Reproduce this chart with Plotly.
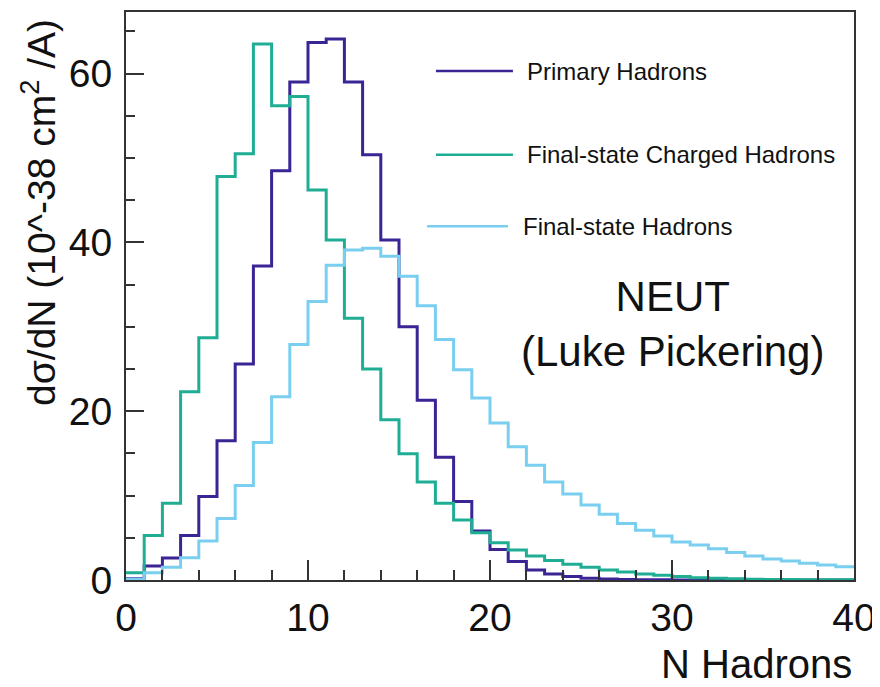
import plotly.graph_objects as go

# Bin edges 0..40 (unit bins)
bin_edges = list(range(0, 41))

primary_hadrons = [0.15, 1.66, 2.6, 5.26, 9.9, 16.5, 25.6, 37.2, 48.5, 59.0,
                   63.7, 64.1, 59.0, 50.4, 40.3, 30.0, 21.3, 14.55, 9.3, 5.8,
                   3.6, 2.2, 1.19, 0.71, 0.4, 0.22, 0.12, 0.07, 0.04, 0.02,
                   0.01, 0.01, 0.01, 0.0, 0.0, 0.0, 0.0, 0.0, 0.0, 0.0]

charged_hadrons = [0.87, 5.26, 9.1, 22.3, 28.7, 47.8, 50.5, 63.5, 56.2, 57.3,
                   46.2, 40.3, 31.0, 25.0, 19.0, 14.95, 11.6, 9.1, 7.1, 5.6,
                   4.4, 3.56, 2.85, 2.3, 1.86, 1.5, 1.19, 0.95, 0.71, 0.55,
                   0.4, 0.28, 0.2, 0.15, 0.1, 0.07, 0.05, 0.04, 0.03, 0.02]

final_hadrons = [0.1, 0.87, 1.5, 2.65, 4.63, 7.3, 11.2, 16.3, 21.7, 27.9,
                 33.0, 37.3, 39.1, 39.3, 38.35, 36.0, 32.5, 28.5, 24.9, 21.55,
                 18.6, 15.8, 13.6, 11.6, 10.2, 8.9, 7.8, 6.7, 5.9, 5.2,
                 4.5, 4.15, 3.7, 3.25, 2.85, 2.5, 2.25, 1.98, 1.78, 1.58]

series_names = ["Primary Hadrons", "Final-state Charged Hadrons", "Final-state Hadrons"]
series_values = [primary_hadrons, charged_hadrons, final_hadrons]
series_colors = ["#3b2595", "#1fae94", "#7acff0"]

x_tick_vals = [0, 10, 20, 30, 40]
y_tick_vals = [0, 20, 40, 60]

FONT = "Liberation Sans, Arial, Helvetica, sans-serif"
TXT = "#111111"
AX = "#333333"

fig = go.Figure()
for name, vals, col in zip(series_names, series_values, series_colors):
    fig.add_trace(go.Scatter(
        x=bin_edges,
        y=vals + [vals[-1]],
        mode="lines",
        line=dict(shape="hv", color=col, width=3),
        name=name,
        showlegend=False,
        hoverinfo="skip",
    ))

# Legend drawn manually (line samples + labels)
legend_rows = [
    (17.03, 21.26, 60.3, 21.95),
    (17.03, 21.26, 50.4, 21.95),
    (16.54, 20.99, 41.9, 21.73),
]
for (x0, x1, yv, xt), name, col in zip(legend_rows, series_names, series_colors):
    fig.add_shape(type="line", xref="x", yref="y", x0=x0, x1=x1, y0=yv, y1=yv,
                  line=dict(color=col, width=2.5))
    fig.add_annotation(x=xt, y=yv, xref="x", yref="y", text=name, showarrow=False,
                       xanchor="left", yanchor="middle",
                       font=dict(family=FONT, size=24, color=TXT))

fig.add_annotation(x=30.0, y=30.3, xref="x", yref="y",
                   text="NEUT<br>(Luke Pickering)", showarrow=False,
                   xanchor="center", yanchor="middle", align="center",
                   font=dict(family=FONT, size=42, color=TXT))

# Axis titles
fig.add_annotation(x=-0.121, y=0.992, xref="paper", yref="paper",
                   text="dσ/dN (10^-38 cm<sup>2</sup> /A)", showarrow=False,
                   textangle=-90, xanchor="center", yanchor="top",
                   font=dict(family=FONT, size=39, color=TXT))
fig.add_annotation(x=40, y=-0.148, xref="x", yref="paper",
                   text="N Hadrons", showarrow=False,
                   xanchor="right", yanchor="middle",
                   font=dict(family=FONT, size=40, color=TXT))

fig.update_xaxes(
    range=[0, 40], tickvals=x_tick_vals, ticktext=[str(v) for v in x_tick_vals],
    ticks="inside", ticklen=20, tickwidth=1.5, tickcolor=AX,
    minor=dict(dtick=2, ticks="inside", ticklen=10, tickwidth=1.5, tickcolor=AX),
    showline=True, linecolor=AX, linewidth=2, mirror=True,
    showgrid=False, zeroline=False, automargin=False,
    tickfont=dict(family=FONT, size=39, color=TXT),
    ticklabelstandoff=2,
)
fig.update_yaxes(
    range=[0, 67.3], tickvals=y_tick_vals, ticktext=[str(v) for v in y_tick_vals],
    ticks="inside", ticklen=18, tickwidth=1.5, tickcolor=AX,
    minor=dict(dtick=5, ticks="inside", ticklen=9, tickwidth=1.5, tickcolor=AX),
    showline=True, linecolor=AX, linewidth=2, mirror=True,
    showgrid=False, zeroline=False, automargin=False,
    tickfont=dict(family=FONT, size=39, color=TXT),
    ticklabelstandoff=4,
)

# The page body adds an 8px offset, so the figure is sized/margined to compensate
fig.update_layout(
    width=872, height=679,
    margin=dict(l=118, r=26, t=4, b=107),
    paper_bgcolor="white", plot_bgcolor="white",
    showlegend=False,
)

fig.write_html("out.html")
